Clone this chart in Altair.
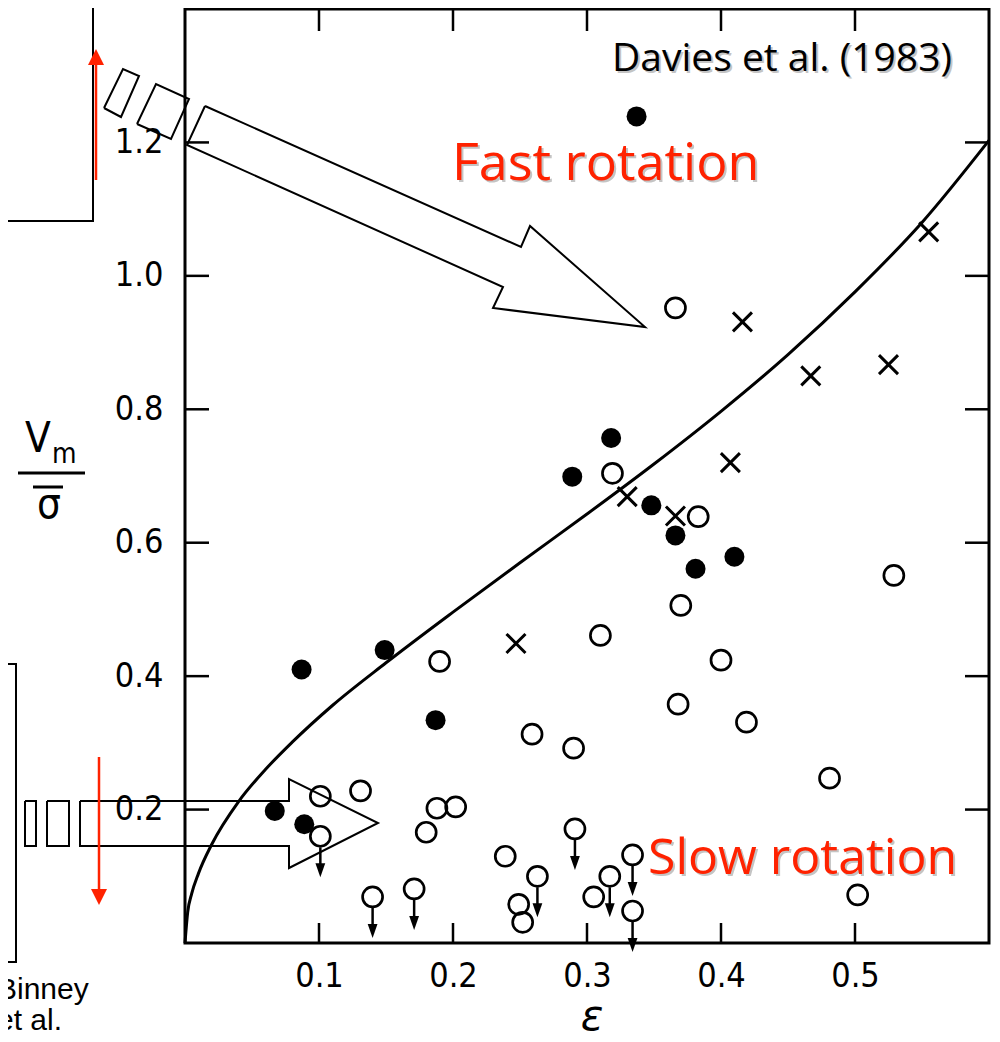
import altair as alt
import pandas as pd

# ---------------- data ----------------
filled_eps = [0.337, 0.087, 0.149, 0.289, 0.318, 0.348, 0.366, 0.381, 0.410, 0.187, 0.067, 0.089]
filled_v = [1.239, 0.410, 0.439, 0.699, 0.757, 0.656, 0.611, 0.561, 0.579, 0.334, 0.198, 0.178]

open_eps = [0.366, 0.319, 0.383, 0.370, 0.310, 0.400, 0.368, 0.419, 0.529, 0.190, 0.259, 0.290,
            0.481, 0.502, 0.101, 0.131, 0.188, 0.202, 0.180, 0.239, 0.249, 0.252, 0.305]
open_v = [0.952, 0.704, 0.639, 0.506, 0.461, 0.424, 0.358, 0.331, 0.551, 0.422, 0.313, 0.292,
          0.247, 0.072, 0.220, 0.228, 0.202, 0.204, 0.166, 0.130, 0.058, 0.031, 0.069]

limit_eps = [0.101, 0.140, 0.171, 0.291, 0.263, 0.317, 0.334, 0.334]
limit_v = [0.160, 0.069, 0.081, 0.171, 0.100, 0.100, 0.132, 0.048]

cross_eps = [0.330, 0.366, 0.407, 0.555, 0.416, 0.467, 0.525, 0.247]
cross_v = [0.669, 0.640, 0.720, 1.066, 0.931, 0.850, 0.867, 0.449]

curve_eps = [0, 0.002, 0.005, 0.01, 0.02, 0.04, 0.06, 0.08, 0.11, 0.15, 0.20, 0.25, 0.30,
             0.35, 0.40, 0.45, 0.50, 0.55, 0.60]
curve_v = [0, 0.046, 0.074, 0.104, 0.148, 0.212, 0.26, 0.301, 0.356, 0.42, 0.496, 0.570, 0.643,
           0.718, 0.797, 0.882, 0.976, 1.08, 1.203]

x_ticks = [0.1, 0.2, 0.3, 0.4, 0.5]
y_ticks = [0.2, 0.4, 0.6, 0.8, 1.0, 1.2]

# ---------------- layout ----------------
X0, Y0 = 185, 9          # page position of plot origin (top-left)
W, H = 804, 934
XMAX, YMAX = 0.6, 1.4


def dx(px):
    return (px - X0) / W * XMAX


def dy(py):
    return (Y0 + H - py) / H * YMAX


def vx(px):
    return px - X0


def vy(py):
    return py - Y0


RED = "#ff2200"
LABEL_FONT = "Liberation Sans Narrow, DejaVu Sans Condensed, sans-serif"
ANNOT_FONT = "Comic Sans MS, Open Sans, sans-serif"

xs = alt.Scale(domain=[0, XMAX], nice=False, zero=False)
ys = alt.Scale(domain=[0, YMAX], nice=False, zero=False)
xaxis = alt.Axis(values=x_ticks, format=".1f", ticks=False, tickSize=0, domain=False, grid=False,
                 labelFont=LABEL_FONT, labelFontSize=34, labelPadding=16, labelColor="black",
                 title=None)
yaxis = alt.Axis(values=y_ticks, format=".1f", ticks=False, tickSize=0, domain=False, grid=False,
                 labelFont=LABEL_FONT, labelFontSize=34, labelPadding=22, labelColor="black",
                 title=None)


def X():
    return alt.X("x:Q", scale=xs, axis=xaxis)


def Y():
    return alt.Y("y:Q", scale=ys, axis=yaxis)


layers = []

# theoretical curve
curve_df = pd.DataFrame({"x": curve_eps, "y": curve_v})
layers.append(alt.Chart(curve_df).mark_line(color="black", strokeWidth=3, interpolate="monotone")
              .encode(x=X(), y=Y()))

# inward ticks on all four sides
tx = pd.DataFrame({"x": x_ticks})
ty = pd.DataFrame({"y": y_ticks})
layers.append(alt.Chart(tx).mark_rule(color="black", strokeWidth=2.5)
              .encode(x=X(), y=alt.value(H), y2=alt.value(H - 20)))
layers.append(alt.Chart(tx).mark_rule(color="black", strokeWidth=2.5)
              .encode(x=X(), y=alt.value(0), y2=alt.value(22)))
layers.append(alt.Chart(ty).mark_rule(color="black", strokeWidth=2.5)
              .encode(y=Y(), x=alt.value(0), x2=alt.value(24)))
layers.append(alt.Chart(ty).mark_rule(color="black", strokeWidth=2.5)
              .encode(y=Y(), x=alt.value(W - 24), x2=alt.value(W)))

# points
filled_df = pd.DataFrame({"x": filled_eps, "y": filled_v})
open_df = pd.DataFrame({"x": open_eps + limit_eps, "y": open_v + limit_v})
limit_df = pd.DataFrame({"x": limit_eps, "y": limit_v})
cross_df = pd.DataFrame({"x": cross_eps, "y": cross_v})

layers.append(alt.Chart(limit_df).mark_rule(color="black", strokeWidth=2.5, yOffset=11, y2Offset=30)
              .encode(x=X(), y=Y(), y2=alt.Y2("y")))
layers.append(alt.Chart(limit_df).mark_point(shape="M-0.7,-1L0.7,-1L0,1Z", filled=True, size=196,
                                             color="black", opacity=1, yOffset=34)
              .encode(x=X(), y=Y()))
layers.append(alt.Chart(filled_df).mark_point(shape="circle", filled=True, size=400, color="black", opacity=1)
              .encode(x=X(), y=Y()))
layers.append(alt.Chart(open_df).mark_point(shape="circle", filled=False, size=400, color="black",
                                            strokeWidth=2.7, opacity=1)
              .encode(x=X(), y=Y()))
layers.append(alt.Chart(cross_df).mark_point(shape="M-1,-1L1,1M1,-1L-1,1", filled=False, size=361,
                                             color="black", strokeWidth=3, opacity=1)
              .encode(x=X(), y=Y()))

# ---------------- decorations (page pixel outlines) ----------------
shapes = {
    "big": [(205, 106), (521, 247), (530, 226), (645, 327), (493, 308), (503, 287), (187, 145), (205, 106)],
    "r1": [(104, 108), (123, 69), (139, 76), (121, 117), (104, 108)],
    "r2": [(137, 124), (156, 84), (189, 99), (171, 139), (137, 124)],
    "low": [(80, 801), (289, 801), (289, 779), (378, 823), (289, 868), (289, 846), (80, 846), (80, 801)],
    "s1": [(25, 801), (36, 801), (36, 846), (25, 846), (25, 801)],
    "s2": [(47, 801), (69, 801), (69, 846), (47, 846), (47, 801)],
    "box1": [(-10, 221), (93, 221), (93, -10)],
    "box2": [(-10, 664), (16, 664), (16, 962), (-10, 962)],
}
rows = []
for g, pts in shapes.items():
    for i, (px, py) in enumerate(pts):
        rows.append({"x": dx(px), "y": dy(py), "g": g, "o": i})
deco_df = pd.DataFrame(rows)
layers.append(alt.Chart(deco_df).mark_line(color="black", strokeWidth=2, strokeJoin="miter")
              .encode(x=X(), y=Y(), detail="g:N", order="o:Q"))

# red arrows
red_rows = [{"x": dx(96), "y": dy(180), "g": "a", "o": 0}, {"x": dx(96), "y": dy(62), "g": "a", "o": 1},
            {"x": dx(99), "y": dy(757), "g": "b", "o": 0}, {"x": dx(99), "y": dy(891), "g": "b", "o": 1}]
layers.append(alt.Chart(pd.DataFrame(red_rows)).mark_line(color=RED, strokeWidth=2.5)
              .encode(x=X(), y=Y(), detail="g:N", order="o:Q"))
layers.append(alt.Chart(pd.DataFrame({"x": [dx(96)], "y": [dy(57)]}))
              .mark_point(shape="M0,-1L1,1L-1,1Z", filled=True, size=256, color=RED, opacity=1)
              .encode(x=X(), y=Y()))
layers.append(alt.Chart(pd.DataFrame({"x": [dx(99)], "y": [dy(897)]}))
              .mark_point(shape="M-1,-1L1,-1L0,1Z", filled=True, size=256, color=RED, opacity=1)
              .encode(x=X(), y=Y()))


# ---------------- texts ----------------
def label(text, px, py, size, color="black", font=ANNOT_FONT, align="left", **kw):
    return (alt.Chart(pd.DataFrame({"t": [text]}))
            .mark_text(align=align, baseline="alphabetic", font=font, fontSize=size, color=color, **kw)
            .encode(x=alt.value(vx(px)), y=alt.value(vy(py)), text="t:N"))


def rule_px(x1, x2, y, w=3):
    return (alt.Chart(pd.DataFrame({"a": [0]})).mark_rule(color="black", strokeWidth=w)
            .encode(x=alt.value(vx(x1)), x2=alt.value(vx(x2)), y=alt.value(vy(y))))


SHADOW = "#c4c4c4"
for txt, px, py, sz, col in [("Davies et al. (1983)", 612, 71, 39, "black"),
                             ("Fast rotation", 452, 180, 52, RED),
                             ("Slow rotation", 648, 874, 50, RED)]:
    layers.append(label(txt, px + 2, py + 2, sz, color=SHADOW))
    layers.append(label(txt, px, py, sz, color=col))

layers.append(label("Binney", -3, 999, 30, font="Liberation Sans, Arial, sans-serif"))
layers.append(label("et al.", -3, 1030, 30, font="Liberation Sans, Arial, sans-serif"))

# axis titles
layers.append(label("ε", 592, 1030, 42, font="DejaVu Sans", align="center", fontStyle="italic"))
layers.append(label("V", 25, 452, 42, font=LABEL_FONT))
layers.append(label("m", 52, 463, 28, font=LABEL_FONT))
layers.append(rule_px(18, 85, 473))
layers.append(rule_px(33, 63, 487))
layers.append(label("σ", 37, 518, 42, font=LABEL_FONT))

chart = (alt.layer(*layers)
         .properties(width=W, height=H,
                     padding={"left": X0 - 8, "top": Y0 - 8, "right": 984 - (X0 - 8) - W, "bottom": 91},
                     autosize=alt.AutoSizeParams(type="none"),
                     background="white")
         .configure_view(stroke="black", strokeWidth=3))

chart.save("out.html", embed_options={"renderer": "svg", "actions": False})
